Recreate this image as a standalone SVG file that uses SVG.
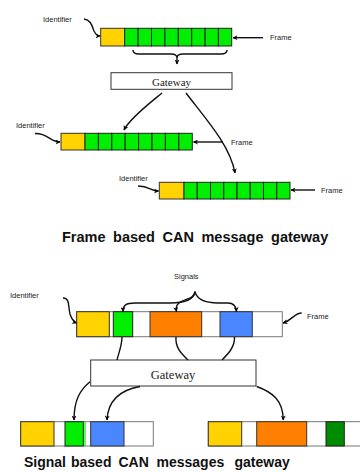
<svg xmlns="http://www.w3.org/2000/svg" width="360" height="472" viewBox="0 0 360 472">
<defs>
<marker id="ah" viewBox="0 0 10 10" refX="9" refY="5" markerWidth="5" markerHeight="5" orient="auto" markerUnits="userSpaceOnUse">
<path d="M0,0 L10,5 L0,10 L3,5 Z" fill="#000"/>
</marker>
<style>
.lbl{font-family:"Liberation Sans",Arial,sans-serif;font-size:7.5px;fill:#222}
.gw{font-family:"Liberation Serif","Times New Roman",serif;fill:#222}
.ttl{font-family:"Liberation Sans",Arial,sans-serif;font-weight:bold;fill:#111}
.y{fill:#FFD200;stroke:#333;stroke-width:1}
.g{fill:#00EE00;stroke:#222;stroke-width:1}
.o{fill:#FF8000;stroke:#333;stroke-width:1}
.b{fill:#4A86FF;stroke:#333;stroke-width:1}
.dg{fill:#008C00;stroke:#222;stroke-width:1}
.w{fill:#fff;stroke:#777;stroke-width:1}
.box{fill:#fff;stroke:#333;stroke-width:1}
.c{fill:none;stroke:#111;stroke-width:1.4}
</style>
</defs>

<g id="frame1">
<rect class="y" x="100.7" y="28.3" width="24" height="17.7"/>
<rect class="g" x="124.7" y="28.3" width="13.4" height="17.7"/>
<rect class="g" x="138.1" y="28.3" width="13.4" height="17.7"/>
<rect class="g" x="151.5" y="28.3" width="13.4" height="17.7"/>
<rect class="g" x="164.9" y="28.3" width="13.4" height="17.7"/>
<rect class="g" x="178.3" y="28.3" width="13.4" height="17.7"/>
<rect class="g" x="191.7" y="28.3" width="13.4" height="17.7"/>
<rect class="g" x="205.1" y="28.3" width="13.3" height="17.7"/>
<rect class="g" x="218.4" y="28.3" width="13.3" height="17.7"/>
<text class="lbl" x="43" y="22">Identifier</text>
<text class="lbl" x="270" y="40">Frame</text>
</g>

<g id="gateway1">
<rect class="box" x="111" y="72.7" width="121" height="16.6"/>
<text class="gw" x="171.5" y="86" font-size="11" text-anchor="middle">Gateway</text>
</g>

<g id="frame2">
<rect class="y" x="61" y="133.3" width="24" height="16.7"/>
<rect class="g" x="85" y="133.3" width="13.4" height="16.7"/>
<rect class="g" x="98.4" y="133.3" width="13.4" height="16.7"/>
<rect class="g" x="111.8" y="133.3" width="13.4" height="16.7"/>
<rect class="g" x="125.2" y="133.3" width="13.4" height="16.7"/>
<rect class="g" x="138.6" y="133.3" width="13.4" height="16.7"/>
<rect class="g" x="152" y="133.3" width="13.4" height="16.7"/>
<rect class="g" x="165.4" y="133.3" width="13.4" height="16.7"/>
<rect class="g" x="178.8" y="133.3" width="13.5" height="16.7"/>
<text class="lbl" x="16" y="127.5">Identifier</text>
<text class="lbl" x="231" y="144.5">Frame</text>
</g>

<g id="frame3">
<rect class="y" x="159.3" y="182.3" width="24.7" height="16.7"/>
<rect class="g" x="184" y="182.3" width="13.25" height="16.7"/>
<rect class="g" x="197.25" y="182.3" width="13.25" height="16.7"/>
<rect class="g" x="210.5" y="182.3" width="13.25" height="16.7"/>
<rect class="g" x="223.75" y="182.3" width="13.25" height="16.7"/>
<rect class="g" x="237" y="182.3" width="13.25" height="16.7"/>
<rect class="g" x="250.25" y="182.3" width="13.25" height="16.7"/>
<rect class="g" x="263.5" y="182.3" width="13.25" height="16.7"/>
<rect class="g" x="276.75" y="182.3" width="13.25" height="16.7"/>
<text class="lbl" x="119" y="180.5">Identifier</text>
<text class="lbl" x="321" y="193">Frame</text>
</g>

<text class="ttl" x="62" y="241.7" font-size="14.5" word-spacing="3.5">Frame based CAN message gateway</text>

<g id="frame4">
<rect class="w" x="76.7" y="311.7" width="205.6" height="25"/>
<rect class="y" x="76.7" y="311.7" width="32.6" height="25"/>
<rect class="g" x="113.3" y="311.7" width="19.4" height="25"/>
<rect class="o" x="150" y="311.7" width="51.7" height="25"/>
<rect class="b" x="220" y="311.7" width="32.3" height="25"/>
<text class="lbl" x="174" y="279">Signals</text>
<text class="lbl" x="10" y="298">Identifier</text>
<text class="lbl" x="307" y="319">Frame</text>
</g>

<g id="gateway2">
<rect class="box" x="90.7" y="360" width="165.3" height="26"/>
<text class="gw" x="173" y="378.5" font-size="12.5" text-anchor="middle">Gateway</text>
</g>

<g id="frame5">
<rect class="w" x="20.7" y="421.7" width="132.6" height="24.3"/>
<rect class="y" x="20.7" y="421.7" width="33.3" height="24.3"/>
<rect class="g" x="65" y="421.7" width="18.3" height="24.3"/>
<line x1="85" y1="421.7" x2="85" y2="446" stroke="#00EE00" stroke-width="1.2"/>
<rect class="b" x="90.7" y="421.7" width="33.3" height="24.3"/>
</g>

<g id="frame6">
<rect class="w" x="208.3" y="421.7" width="160" height="24.3"/>
<rect class="y" x="208.3" y="421.7" width="33.4" height="24.3"/>
<rect class="o" x="256.7" y="421.7" width="50" height="24.3"/>
<rect class="dg" x="326" y="421.7" width="18.3" height="24.3"/>
</g>

<text class="ttl" y="467" font-size="14"><tspan x="24">Signal</tspan><tspan x="71">based</tspan><tspan x="118.5">CAN</tspan><tspan x="156.5">messages</tspan><tspan x="234.5">gateway</tspan></text>

<g id="connectors">
<path class="c" d="M84,19 C91,20 92,26 94,31 C96,35 98,36 100,36" marker-end="url(#ah)"/>
<path class="c" d="M263,37.7 L233,37.7" marker-end="url(#ah)"/>
<path class="c" d="M133,50 Q133,54 139,54 L171,54 Q177,54 177,58 Q177,54 183,54 L221,54 Q227,54 227,50"/>
<path class="c" d="M177,58 L177,64" marker-end="url(#ah)"/>
<path class="c" d="M162,93 C150,103 130,118 124,130" marker-end="url(#ah)"/>
<path class="c" d="M186,93 C205,118 230,145 235,173" marker-end="url(#ah)"/>
<path class="c" d="M35,133.5 C48,133 50,142 60,142" marker-end="url(#ah)"/>
<path class="c" d="M223,142 L193.5,142" marker-end="url(#ah)"/>
<path class="c" d="M138,186 C150,186 150,191 158.5,191" marker-end="url(#ah)"/>
<path class="c" d="M315,190 L291,190" marker-end="url(#ah)"/>

<path class="c" d="M63,298 C70,298 68,306 70,314 C72,320 74,322 76.5,323" marker-end="url(#ah)"/>
<path class="c" d="M301.7,313 C294,313 293,320 283,323" marker-end="url(#ah)"/>
<path class="c" d="M195,291.7 C194,300 185,303 170,303 L135,303 C126,303 123,305 123,311.5" marker-end="url(#ah)"/>
<path class="c" d="M195,291.7 C194,300 183,298 178,304 C176,306 176,309 176.5,311.5" marker-end="url(#ah)"/>
<path class="c" d="M195,291.7 C197,300 205,303 218,303 L228,303 C234,303 236,306 236.5,311.5" marker-end="url(#ah)"/>

<path class="c" d="M122,337 C122,345 119,352 117,360"/>
<path class="c" d="M176,337 C175,348 182,354 188,360"/>
<path class="c" d="M234.5,337 C235,347 228,354 222,360"/>

<path class="c" d="M90,381.7 C80,390 74,400 74,420" marker-end="url(#ah)"/>
<path class="c" d="M140,386.5 C120,390 108,400 107,420" marker-end="url(#ah)"/>
<path class="c" d="M256.7,386.5 C272,392 283,400 283.3,420" marker-end="url(#ah)"/>
</g>
</svg>
